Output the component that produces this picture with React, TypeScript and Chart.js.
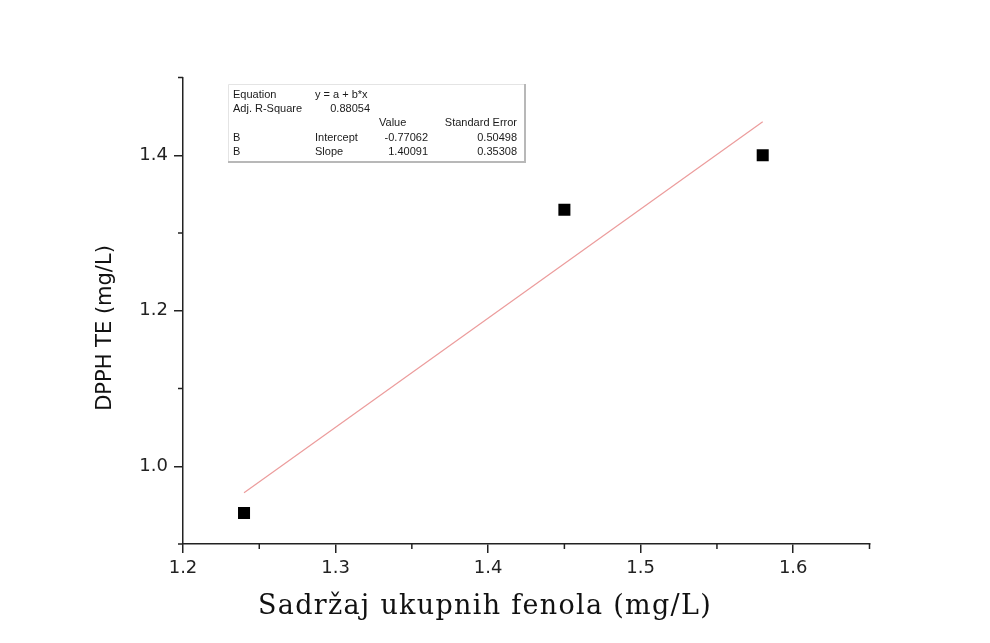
import React, { useEffect, useRef } from "react";
import { Chart, registerables } from "chart.js";

Chart.register(...registerables);

// ---- data ----
const pointsX = [1.24, 1.45, 1.58];
const pointsY = [0.94, 1.33, 1.4];
const fitX = [1.24, 1.58];
const fitY = [0.966, 1.443];

const xTickValues = [1.2, 1.25, 1.3, 1.35, 1.4, 1.45, 1.5, 1.55, 1.6, 1.65];
const xTickLabels = ["1.2", "", "1.3", "", "1.4", "", "1.5", "", "1.6", ""];
const yTickValues = [0.9, 1.0, 1.1, 1.2, 1.3, 1.4, 1.5];
const yTickLabels = ["", "1.0", "", "1.2", "", "1.4", ""];

const xTitle = "Sadržaj ukupnih fenola (mg/L)";
const yTitle = "DPPH TE (mg/L)";

const tableCol1 = ["Equation", "Adj. R-Square", "", "B", "B"];
const tableCol2 = ["y = a + b*x", "", "", "Intercept", "Slope"];
const tableCol3 = ["", "0.88054", "", "-0.77062", "1.40091"];
const tableCol4 = ["", "", "Standard Error", "0.50498", "0.35308"];
const tableValueHeader = "Value";

const overlayPlugin = {
  id: "overlay",
  afterDraw(chart: any) {
    const ctx = chart.ctx;
    const xs = chart.scales.x;
    const ys = chart.scales.y;
    const area = chart.chartArea;
    ctx.save();
    // minor ticks
    ctx.strokeStyle = "#222";
    ctx.lineWidth = 1.5;
    xs.ticks.forEach((t: any, i: number) => {
      if (xTickLabels[i] === "") {
        const px = xs.getPixelForValue(t.value);
        ctx.beginPath();
        ctx.moveTo(px, area.bottom);
        ctx.lineTo(px, area.bottom + 5);
        ctx.stroke();
      }
    });
    ys.ticks.forEach((t: any, i: number) => {
      if (yTickLabels[i] === "") {
        const py = ys.getPixelForValue(t.value);
        ctx.beginPath();
        ctx.moveTo(area.left - 5, py);
        ctx.lineTo(area.left, py);
        ctx.stroke();
      }
    });

    // x title
    ctx.fillStyle = "#111";
    ctx.font = '27px "DejaVu Serif"';
    try {
      (ctx as any).letterSpacing = "1.3px";
    } catch (e) {}
    ctx.textAlign = "center";
    ctx.textBaseline = "alphabetic";
    ctx.fillText(xTitle, 485, 614);
    try {
      (ctx as any).letterSpacing = "0px";
    } catch (e) {}

    // y title
    ctx.save();
    ctx.translate(106, 328);
    ctx.rotate(-Math.PI / 2);
    ctx.font = '21px "DejaVu Sans"';
    ctx.fillStyle = "#111";
    ctx.textAlign = "center";
    ctx.textBaseline = "middle";
    ctx.fillText(yTitle, 0, 0);
    ctx.restore();

    // stats table
    const bx = 228, by = 84, bw = 297, bh = 78;
    ctx.fillStyle = "#fff";
    ctx.fillRect(bx, by, bw, bh);
    ctx.strokeStyle = "#e4e4e4";
    ctx.lineWidth = 1;
    ctx.beginPath();
    ctx.moveTo(bx + 0.5, by + bh);
    ctx.lineTo(bx + 0.5, by + 0.5);
    ctx.lineTo(bx + bw, by + 0.5);
    ctx.stroke();
    ctx.strokeStyle = "#b8b8b8";
    ctx.lineWidth = 2;
    ctx.beginPath();
    ctx.moveTo(bx + bw, by);
    ctx.lineTo(bx + bw, by + bh);
    ctx.lineTo(bx, by + bh);
    ctx.stroke();

    ctx.fillStyle = "#1a1a1a";
    ctx.font = '11px "Liberation Sans", Arial, sans-serif';
    ctx.textBaseline = "middle";
    const rows = [95, 109, 123, 138, 152];
    rows.forEach((ry, i) => {
      ctx.textAlign = "left";
      if (tableCol1[i]) ctx.fillText(tableCol1[i], 233, ry);
      if (tableCol2[i]) ctx.fillText(tableCol2[i], 315, ry);
      ctx.textAlign = "right";
      if (tableCol3[i]) ctx.fillText(tableCol3[i], i === 1 ? 370 : 428, ry);
      if (tableCol4[i]) ctx.fillText(tableCol4[i], 517, ry);
    });
    ctx.textAlign = "left";
    ctx.fillText(tableValueHeader, 379, rows[2]);
    ctx.restore();
  },
};

export default function App() {
  const ref = useRef<HTMLCanvasElement>(null);
  useEffect(() => {
    if (!ref.current) return;
    const chart = new Chart(ref.current, {
      type: "scatter",
      data: {
        datasets: [
          {
            type: "line",
            data: fitX.map((x, i) => ({ x, y: fitY[i] })),
            borderColor: "#ec9c9c",
            borderWidth: 1.2,
            pointRadius: 0,
            fill: false,
          },
          {
            data: pointsX.map((x, i) => ({ x, y: pointsY[i] })),
            pointStyle: "rect",
            pointRadius: 8.5,
            backgroundColor: "#000",
            borderWidth: 0,
          },
        ],
      },
      plugins: [overlayPlugin],
      options: {
        animation: false,
        responsive: false,
        devicePixelRatio: 1,
        layout: { padding: { left: 0, right: 120.5, top: 77.5, bottom: 0 } },
        plugins: { legend: { display: false }, tooltip: { enabled: false } },
        scales: {
          x: {
            type: "linear",
            min: 1.2,
            max: 1.65,
            afterBuildTicks: (s: any) => {
              s.ticks = xTickValues.map((v) => ({ value: v }));
            },
            afterFit: (s: any) => {
              s.height = 99;
            },
            ticks: {
              autoSkip: false,
              maxRotation: 0,
              padding: 5,
              color: "#222",
              font: { family: "DejaVu Sans", size: 18 },
              callback: (_v: any, i: number) => xTickLabels[i],
            },
            grid: {
              drawOnChartArea: false,
              tickLength: 9,
              lineWidth: 1.5,
              tickColor: (c: any) => (xTickLabels[c.index] ? "#222" : "rgba(0,0,0,0)"),
            },
            border: { color: "#222", width: 1.5 },
          },
          y: {
            type: "linear",
            min: 0.9,
            max: 1.5,
            afterBuildTicks: (s: any) => {
              s.ticks = yTickValues.map((v) => ({ value: v }));
            },
            afterFit: (s: any) => {
              s.width = 183;
            },
            ticks: {
              autoSkip: false,
              padding: 6,
              color: "#222",
              font: { family: "DejaVu Sans", size: 18 },
              callback: (_v: any, i: number) => yTickLabels[i],
            },
            grid: {
              drawOnChartArea: false,
              tickLength: 9,
              lineWidth: 1.5,
              tickColor: (c: any) => (yTickLabels[c.index] ? "#222" : "rgba(0,0,0,0)"),
            },
            border: { color: "#222", width: 1.5 },
          },
        },
      },
    });
    return () => chart.destroy();
  }, []);
  return (
    <div style={{ position: "absolute", left: 0, top: 0, width: 990, height: 643, background: "#fff" }}>
      <canvas ref={ref} width={990} height={643} />
    </div>
  );
}
